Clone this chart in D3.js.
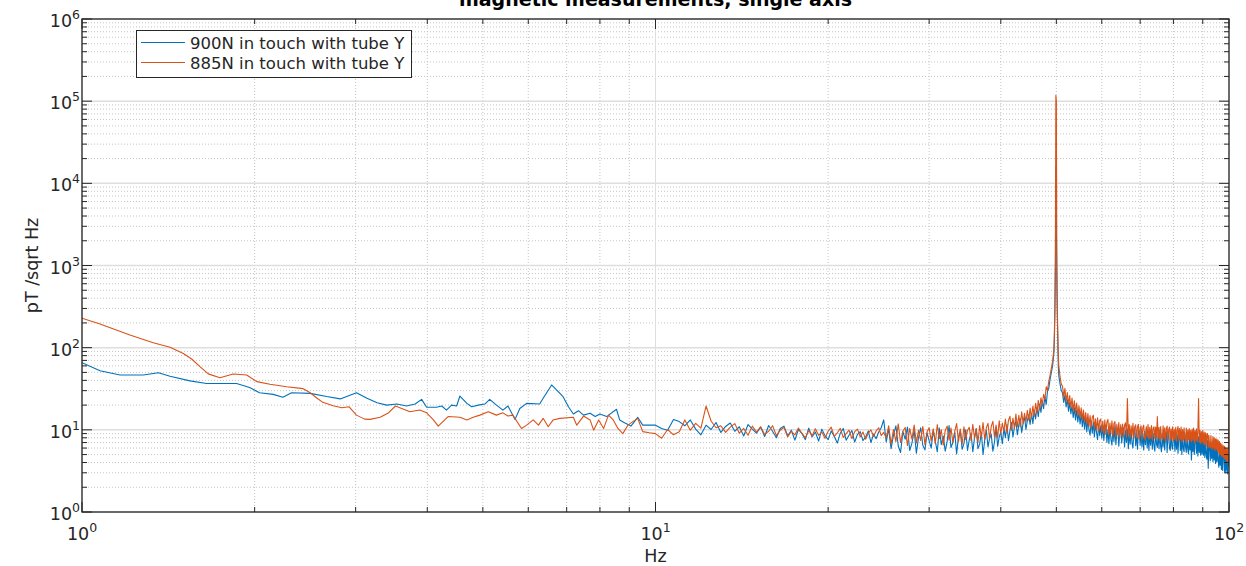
<!DOCTYPE html>
<html>
<head>
<meta charset="utf-8">
<script src="https://cdn.jsdelivr.net/npm/d3@7"></script>
<style>
body { margin: 0; background: #fff; }
svg text { font-family: "DejaVu Sans", sans-serif; fill: #262626; }
</style>
</head>
<body>
<svg id="chart" width="1246" height="566"></svg>
<script>
"use strict";

const titleText = "magnetic measurements, single axis";
const xLabel = "Hz";
const yLabel = "pT /sqrt Hz";
const seriesNames = ["900N in touch with tube Y", "885N in touch with tube Y"];
const seriesColors = ["#0072BD", "#D95319"];
const xDecades = [0, 1, 2];
const yDecades = [0, 1, 2, 3, 4, 5, 6];

// 1..10 Hz, read point by point off the smooth part
const lowFreqBlue = [1.0, 1.075, 1.165, 1.279, 1.359, 1.424, 1.543, 1.649, 1.86, 1.96, 2.04, 2.155, 2.24, 2.32, 2.5, 2.67, 2.82, 3.01,
  3.14, 3.27, 3.4, 3.54, 3.68, 3.81, 3.91, 3.99, 4.15, 4.24, 4.32, 4.41, 4.5, 4.56, 4.69, 4.78, 4.91, 5.04, 5.14, 5.28, 5.42, 5.53,
  5.69, 5.8, 5.96, 6.28, 6.37, 6.59, 6.72, 6.9, 7.05, 7.19, 7.34, 7.49, 7.69, 7.85, 8.0, 8.22, 8.55, 8.66, 8.83, 9.06, 9.31, 9.5, 9.76];
const lowBlue = [65.6, 52.4, 46.5, 46.5, 49.5, 45, 39.4, 36.7, 36.7, 32.7, 28.3, 27.0, 24.9, 28.3, 27.8, 25.4, 23.8, 28.3,
  24.2, 21.4, 20.0, 20.6, 19.5, 20.6, 23.5, 18.8, 18.8, 19.5, 17.4, 20.0, 19.5, 25.8, 21.0, 19.1, 20.0, 20.6, 23.5, 20.0, 17.4, 19.5,
  13.4, 18.2, 21.0, 20.6, 24.2, 35.2, 30.6, 25.3, 19.1, 15.6, 17.1, 15.1, 15.9, 14.5, 15.6, 14.5, 17.8, 13.2, 12.2, 11.1, 14.2, 11.4, 11.4];

const lowFreqOrange = [1.0, 1.075, 1.212, 1.331, 1.424, 1.502, 1.553, 1.606, 1.66, 1.74, 1.835, 1.937, 2.017, 2.127, 2.274, 2.43, 2.5,
  2.57, 2.63, 2.74, 2.84, 2.92, 3.01, 3.11, 3.18, 3.31, 3.42, 3.52, 3.61, 3.73, 3.88, 3.99, 4.1, 4.18, 4.29, 4.35, 4.56, 4.69, 4.81,
  4.94, 5.11, 5.28, 5.42, 5.53, 5.64, 5.84, 5.96, 6.12, 6.25, 6.37, 6.5, 6.63, 6.81, 7.19, 7.29, 7.49, 7.69, 7.8, 7.96, 8.12, 8.28,
  8.44, 8.6, 8.77, 8.95, 9.13, 9.31, 9.5, 9.76];
const lowOrange = [228, 194, 143, 115, 101, 85, 72.8, 58.7, 48, 43, 47.8, 46.5, 38.6, 35.8, 33.5, 31.7, 28.3,
  24.2, 21.6, 19.6, 18.6, 19.1, 15.1, 13.5, 13.4, 14.2, 16.0, 19.5, 18.2, 16.6, 17.4, 16.1, 13.2, 11.1, 13.2, 14.5, 14.2, 13.2, 14.2,
  15.1, 16.6, 15.1, 16.1, 14.7, 15.1, 10.4, 11.4, 13.2, 11.4, 13.8, 10.9, 13.2, 13.8, 14.2, 11.4, 14.7, 13.2, 9.9, 13.2, 10.4, 15.1,
  13.2, 10.4, 9.0, 11.4, 12.6, 13.8, 9.5, 9.2];

// 10..25 Hz, one value per 0.25 Hz bin (1 Hz a group)
const band1Start = 10, band1Step = 0.25;
const band1Blue = [
  11.4, 10.4, 9.9, 13.4,  12.6, 11.2, 13.2, 10.2,  8.7, 11.4, 10.1, 12.3,  9.3, 11.0, 12.1, 9.6,
  10.9, 8.4, 11.6, 10.2,  9.1, 10.8, 8.3, 11.3,  9.6, 8.0, 10.4, 11.1,  8.4, 9.9, 7.5, 10.1,
  9.0, 7.6, 10.5, 8.2,  9.4, 7.3, 10.2, 8.5,  7.6, 9.7, 8.3, 6.9,  9.1, 10.4, 7.5, 8.6,
  9.8, 7.1, 8.8, 9.5,  7.4, 8.2, 9.7, 7.0,  8.9, 7.8, 9.4, 10.6,  13.2];
const band1Orange = [
  9.0, 7.9, 10.1, 8.7,  9.5, 13.2, 9.9, 12.0,  10.5, 19.5, 12.8, 10.6,  11.2, 9.3, 10.8, 11.9,
  9.1, 10.4, 8.6, 11.1,  9.4, 10.9, 8.8, 9.6,  11.2, 8.5, 9.9, 10.7,  8.2, 9.6, 8.7, 10.5,
  9.1, 8.0, 9.8, 8.4,  10.3, 8.6, 9.4, 7.9,  9.6, 10.8, 8.3, 9.2,  10.4, 8.1, 9.0, 9.9,
  7.8, 9.5, 10.2, 8.2,  9.4, 7.7, 9.1, 10.0,  8.3, 9.7, 10.6, 8.5,  9.3];

// 25.25..100 Hz, one value per 0.25 Hz bin (5 Hz a row)
const band2Start = 25.25, band2Step = 0.25;
const band2Blue = [
  7.1, 10.3, 5.9, 8.6, 11.2, 6.4, 5.3, 9.5, 7.7, 10.8, 5.6, 6.9, 9.9, 5.2, 8.1, 10.6, 6.5, 5.7, 9.2, 7.4,
  6.0, 9.8, 7.3, 5.4, 10.5, 6.6, 8.4, 5.5, 7.2, 11.3, 6.1, 7.0, 9.4, 5.1, 8.2, 9.7, 5.8, 6.8, 10.0, 5.6,
  7.6, 9.1, 5.4, 8.0, 10.4, 5.9, 6.7, 9.3, 5.0, 7.5, 9.9, 6.2, 7.9, 8.8, 5.5, 7.1, 10.6, 6.3, 8.2, 9.4,
  6.8, 10.5, 8.0, 11.6, 7.4, 9.8, 12.3, 8.2, 10.7, 12.9, 8.7, 11.5, 13.8, 9.3, 12.0, 14.6, 10.1, 12.9, 15.2, 11.6,
  15.8, 11.9, 17.4, 13.6, 18.8, 14.5, 20.6, 16.3, 22.4, 18.1, 25.6, 20.3, 29.5, 32.0, 41.0, 50.0, 60.0, 85.0, 450.0, 3000,
  160, 45, 36, 30, 28.0, 21.5, 26.2, 19.0, 23.4, 16.8, 21.5, 15.6, 19.9, 14.1, 18.6, 13.2, 17.3, 12.5, 16.4, 11.8,
  15.6, 10.9, 14.8, 10.2, 14.0, 9.4, 13.5, 10.0, 8.6, 12.9, 9.1, 12.4, 8.2, 11.9, 9.3, 7.6, 11.8, 8.5, 11.2, 7.9,
  11.3, 7.4, 10.6, 11.5, 7.0, 10.1, 6.8, 10.9, 7.7, 6.5, 10.4, 7.2, 11.1, 6.6, 9.6, 10.3, 6.3, 9.4, 10.8, 6.9,
  9.3, 10.6, 6.2, 9.8, 7.0, 10.2, 5.9, 9.5, 6.7, 10.0, 6.9, 6.0, 9.7, 10.7, 6.4, 9.1, 5.8, 9.9, 9.2, 6.5,
  10.0, 6.2, 9.0, 5.7, 9.6, 6.6, 10.4, 6.0, 8.9, 5.6, 9.4, 6.5, 10.2, 5.8, 9.1, 6.4, 5.5, 9.8, 6.7, 6.1,
  9.3, 5.9, 9.9, 6.3, 5.4, 9.0, 6.2, 9.8, 5.7, 8.6, 9.4, 5.3, 8.5, 9.2, 6.0, 5.6, 9.5, 6.3, 5.8, 8.9,
  8.1, 5.5, 9.3, 5.8, 8.7, 5.2, 8.4, 9.6, 5.6, 8.2, 5.0, 8.9, 5.9, 5.4, 9.2, 6.2, 5.3, 8.6, 5.8, 5.1,
  8.4, 5.7, 8.0, 4.3, 8.8, 5.4, 8.1, 5.0, 7.8, 8.6, 5.2, 7.6, 4.8, 8.2, 5.3, 7.9, 4.9, 7.7, 5.1, 7.4,
  4.9, 7.6, 4.6, 7.1, 5.0, 4.4, 7.4, 3.4, 6.6, 7.0, 4.2, 6.8, 4.5, 7.2, 4.1, 6.5, 4.3, 6.9, 3.9, 6.2,
  4.1, 5.9, 4.3, 3.5, 5.6, 3.7, 6.0, 3.3, 5.4, 3.2, 5.1, 5.7, 3.1, 5.0, 3.0, 5.3, 3.3, 2.9, 4.9, 3.6];
const band2Orange = [
  8.0, 11.2, 6.7, 10.1, 7.2, 11.8, 7.0, 9.6, 10.7, 6.4, 10.4, 7.7, 11.4, 6.9, 9.9, 7.4, 11.0, 6.6, 9.5, 10.6,
  7.3, 10.3, 6.8, 11.6, 7.8, 10.0, 6.5, 9.8, 11.1, 7.5, 10.5, 7.0, 9.6, 11.9, 7.2, 10.2, 6.7, 10.9, 7.6, 9.9,
  10.7, 7.4, 11.7, 7.9, 10.3, 7.0, 11.3, 8.1, 12.3, 7.6, 10.6, 12.0, 7.8, 11.0, 12.7, 8.2, 11.4, 8.0, 12.9, 8.9,
  12.1, 9.6, 13.5, 9.2, 13.0, 14.6, 9.8, 13.9, 10.4, 15.6, 10.9, 15.0, 10.8, 16.6, 11.9, 15.9, 12.4, 17.3, 13.1, 18.4,
  13.8, 19.5, 14.7, 21.1, 16.0, 22.8, 17.4, 24.6, 20.1, 27.0, 23.4, 33.5, 30.0, 39.0, 46.0, 56.0, 68.0, 95.0, 600.0, 100000,
  200, 60, 44, 36, 34.0, 25.0, 32.1, 22.0, 28.4, 20.1, 26.1, 18.6, 24.3, 17.2, 22.6, 16.1, 21.2, 15.0, 19.6, 14.2,
  18.5, 13.3, 17.4, 12.4, 16.2, 11.7, 15.8, 11.1, 14.9, 10.6, 14.2, 15.1, 10.3, 13.6, 9.9, 14.0, 9.6, 13.0, 13.5, 9.4,
  12.8, 9.1, 13.2, 8.8, 12.5, 13.4, 8.6, 12.1, 9.0, 12.9, 8.4, 11.9, 12.6, 8.2, 11.7, 8.7, 12.3, 8.1, 11.6, 8.5,
  11.8, 8.3, 11.4, 12.2, 8.0, 24.0, 8.8, 11.6, 7.9, 11.2, 8.4, 12.0, 7.8, 10.9, 11.5, 8.0, 10.8, 11.7, 7.7, 10.5,
  11.2, 7.6, 10.6, 11.4, 8.0, 7.5, 11.0, 8.2, 11.6, 7.7, 10.7, 7.9, 11.3, 7.4, 10.5, 10.9, 7.8, 10.8, 8.1, 14.5,
  7.9, 10.7, 7.3, 11.0, 8.1, 7.6, 11.2, 7.8, 10.6, 7.2, 10.4, 11.1, 7.5, 10.1, 10.8, 7.4, 10.3, 7.7, 10.9, 7.3,
  10.2, 7.6, 10.7, 7.2, 10.0, 11.0, 7.4, 10.4, 7.7, 10.8, 7.1, 10.1, 7.5, 10.6, 7.8, 7.3, 10.5, 7.0, 10.0, 7.6,
  10.4, 7.4, 9.9, 7.1, 10.2, 7.5, 10.5, 6.9, 9.8, 7.3, 10.3, 7.2, 9.7, 24.0, 7.0, 9.9, 6.8, 9.5, 7.1, 9.8,
  6.8, 9.4, 6.6, 9.2, 6.3, 8.9, 9.0, 6.1, 8.6, 6.4, 6.0, 8.5, 6.2, 5.8, 8.3, 6.0, 8.0, 5.6, 7.8, 5.8,
  7.7, 5.4, 7.5, 5.2, 7.2, 5.0, 6.9, 4.8, 6.6, 4.7, 6.4, 4.5, 6.3, 4.4, 6.0, 4.2, 5.9, 4.1, 5.7, 32.0];

// finer bins around the 50 Hz line
const peakFreq = [49.6, 49.7, 49.8, 49.9, 50.1, 50.2, 50.3, 50.4];
const peakBlue = [120, 250, 800, 16000, 700, 220, 110, 60];
const peakOrange = [150, 300, 1200, 118000, 900, 300, 140, 80];

function buildSeries(lowF, lowV, b1, b2, pk)
{
	let pts = lowF.map(function(f, i) { return [f, lowV[i]]; });
	b1.forEach(function(v, i) { pts.push([band1Start + i * band1Step, v]); });
	b2.forEach(function(v, i) { pts.push([band2Start + i * band2Step, v]); });
	peakFreq.forEach(function(f, i) { pts.push([f, pk[i]]); });
	return pts.sort(function(a, b) { return a[0] - b[0]; });
}

const series = [
	buildSeries(lowFreqBlue, lowBlue, band1Blue, band2Blue, peakBlue),
	buildSeries(lowFreqOrange, lowOrange, band1Orange, band2Orange, peakOrange)
];

const plotLeft = 82, plotRight = 1229, plotTop = 19, plotBottom = 512;
const axisColor = "#262626";

let x = d3.scaleLog().domain([1, 100]).range([plotLeft, plotRight]);
let y = d3.scaleLog().domain([1, 1e6]).range([plotBottom, plotTop]);

let svg = d3.select("#chart");

//minor values between decades
let xMinor = [], yMinor = [];
for (let k = 0; k < xDecades.length - 1; ++k)
	for (let d = 2; d <= 9; ++d) xMinor.push(d * Math.pow(10, xDecades[k]));
for (let k = 0; k < yDecades.length - 1; ++k)
	for (let d = 2; d <= 9; ++d) yMinor.push(d * Math.pow(10, yDecades[k]));
let xMajor = xDecades.map(function(e) { return Math.pow(10, e); });
let yMajor = yDecades.map(function(e) { return Math.pow(10, e); });

//grid
let grid = svg.append("g");
grid.selectAll("line.xmin").data(xMinor).enter().append("line")
	.attr("x1", d => x(d)).attr("x2", d => x(d)).attr("y1", plotTop).attr("y2", plotBottom)
	.attr("stroke", "#c4c4c4").attr("stroke-width", 1).attr("stroke-dasharray", "1,2");
grid.selectAll("line.ymin").data(yMinor).enter().append("line")
	.attr("y1", d => y(d)).attr("y2", d => y(d)).attr("x1", plotLeft).attr("x2", plotRight)
	.attr("stroke", "#c4c4c4").attr("stroke-width", 1).attr("stroke-dasharray", "1,2");
grid.selectAll("line.xmaj").data(xMajor).enter().append("line")
	.attr("x1", d => x(d)).attr("x2", d => x(d)).attr("y1", plotTop).attr("y2", plotBottom)
	.attr("stroke", "#dedede").attr("stroke-width", 1);
grid.selectAll("line.ymaj").data(yMajor).enter().append("line")
	.attr("y1", d => y(d)).attr("y2", d => y(d)).attr("x1", plotLeft).attr("x2", plotRight)
	.attr("stroke", "#dedede").attr("stroke-width", 1.5);

//data
svg.append("clipPath").attr("id", "plot-clip").append("rect")
	.attr("x", plotLeft).attr("y", plotTop).attr("width", plotRight - plotLeft).attr("height", plotBottom - plotTop);

let path_func = d3.line()
	.x(function(d) { return x(d[0]); })
	.y(function(d) { return y(d[1]); });

let lines = svg.append("g").attr("clip-path", "url(#plot-clip)")
	.attr("fill", "none").attr("stroke-linejoin", "round");
series.forEach(function(s, i) {
	lines.append("path")
		.attr("d", path_func(s))
		.attr("stroke", seriesColors[i])
		.attr("stroke-width", 1.1);
});

//box and ticks
let axes = svg.append("g").attr("stroke", axisColor);
axes.append("rect").attr("x", plotLeft).attr("y", plotTop)
	.attr("width", plotRight - plotLeft).attr("height", plotBottom - plotTop)
	.attr("fill", "none").attr("stroke-width", 1.3);

const majLen = 10, minLen = 5;
function xTicks(vals, len)
{
	vals.forEach(function(v) {
		axes.append("line").attr("x1", x(v)).attr("x2", x(v)).attr("y1", plotBottom).attr("y2", plotBottom - len);
		axes.append("line").attr("x1", x(v)).attr("x2", x(v)).attr("y1", plotTop).attr("y2", plotTop + len);
	});
}
function yTicks(vals, len)
{
	vals.forEach(function(v) {
		axes.append("line").attr("y1", y(v)).attr("y2", y(v)).attr("x1", plotLeft).attr("x2", plotLeft + len);
		axes.append("line").attr("y1", y(v)).attr("y2", y(v)).attr("x1", plotRight).attr("x2", plotRight - len);
	});
}
xTicks(xMinor, minLen); xTicks(xMajor, majLen);
yTicks(yMinor, minLen); yTicks(yMajor, majLen);

//tick labels, 10 with a raised exponent
const tickFont = 17.5, expFont = 12.5;
xDecades.forEach(function(e) {
	let t = svg.append("text").attr("x", x(Math.pow(10, e))).attr("y", 540)
		.attr("text-anchor", "middle").attr("font-size", tickFont);
	t.append("tspan").text("10");
	t.append("tspan").attr("dy", -8).attr("font-size", expFont).text(e);
});
yDecades.forEach(function(e) {
	let t = svg.append("text").attr("x", 80).attr("y", y(Math.pow(10, e)) + 8)
		.attr("text-anchor", "end").attr("font-size", tickFont);
	t.append("tspan").text("10");
	t.append("tspan").attr("dy", -8).attr("font-size", expFont).text(e);
});

//labels and title
svg.append("text").attr("x", (plotLeft + plotRight) / 2).attr("y", 562)
	.attr("text-anchor", "middle").attr("font-size", tickFont).text(xLabel);
svg.append("text").attr("transform", "translate(38," + ((plotTop + plotBottom) / 2) + ") rotate(-90)")
	.attr("text-anchor", "middle").attr("font-size", tickFont).text(yLabel);
svg.append("text").attr("x", (plotLeft + plotRight) / 2).attr("y", 6)
	.attr("text-anchor", "middle").attr("font-size", 19).attr("font-weight", "bold")
	.style("fill", "#000").text(titleText);

//legend
let legend = svg.append("g");
legend.append("rect").attr("x", 136.5).attr("y", 30.5).attr("width", 275).attr("height", 47)
	.attr("fill", "#fff").attr("stroke", axisColor).attr("stroke-width", 1);
seriesNames.forEach(function(name, i) {
	let ly = 42.5 + i * 20;
	legend.append("line").attr("x1", 141).attr("x2", 185).attr("y1", ly).attr("y2", ly)
		.attr("stroke", seriesColors[i]).attr("stroke-width", 1.1);
	legend.append("text").attr("x", 190).attr("y", ly + 6).attr("font-size", 16.5).text(name);
});
</script>
</body>
</html>
